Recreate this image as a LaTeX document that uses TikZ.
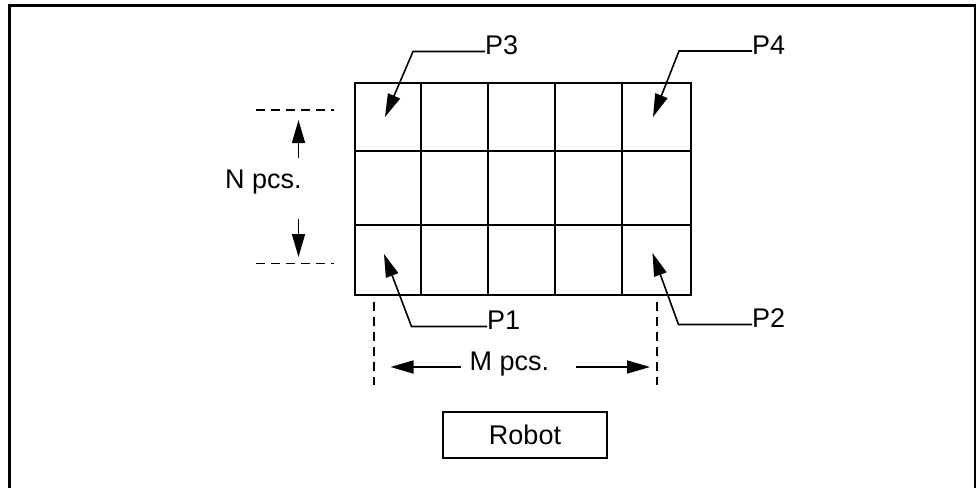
\documentclass[tikz,border=0pt]{standalone}
\usepackage{fontspec}
\setmainfont{Liberation Sans}
\usetikzlibrary{arrows.meta}
\begin{document}
\begin{tikzpicture}[x=1pt,y=-1pt,
  lbl/.style={inner sep=0pt,anchor=base west,font=\fontsize{27}{30}\selectfont},
  gridline/.style={line width=2pt},
  leader/.style={line width=1.6pt,-{Triangle[length=23pt,width=13pt]}},
  dimarrow/.style={line width=1.6pt,-{Triangle[length=23pt,width=13pt]}},
  dashline/.style={line width=1.6pt,dash pattern=on 9pt off 6pt},
  frame/.style={line width=3pt}]
\useasboundingbox (0,0) rectangle (976,487);
% outer frame (open at bottom, clipped)
\draw[frame] (9.5,495) -- (9.5,6) -- (975,6) -- (975,495);
% grid
\node[draw,gridline,inner sep=0pt,minimum width=336pt,minimum height=211.5pt,anchor=north west] (grid) at (353.5,82) {};
\foreach \x in {420.5,487.5,555,622}
  \draw[gridline] (\x,82) -- (\x,293.5);
\foreach \y in {151,225}
  \draw[gridline] (353.5,\y) -- (689.5,\y);
% labels
\node[lbl] (p3) at (485,55) {P3};
\node[lbl] (p4) at (752,55) {P4};
\node[lbl] (p1) at (487,329) {P1};
\node[lbl] (p2) at (752,327) {P2};
\node[lbl] (npcs) at (225,188.5) {N pcs.};
\node[lbl] (mpcs) at (469.5,370.5) {M pcs.};
% tips and corners
\coordinate (t3) at (385,117);
\coordinate (c3) at (413,51.5);
\coordinate (t4) at (653,117);
\coordinate (c4) at (679,51);
\coordinate (t1) at (384,254);
\coordinate (c1) at (411.5,326.5);
\coordinate (t2) at (652.5,253);
\coordinate (c2) at (678.5,324.5);
\draw[leader] (p3.west |- c3) -- (c3) -- (t3);
\draw[leader] (p4.west |- c4) -- (c4) -- (t4);
\draw[leader] (p1.west |- c1) -- (c1) -- (t1);
\draw[leader] (p2.west |- c2) -- (c2) -- (t2);
% N dimension
\coordinate (nd1a) at (256,110); \coordinate (nd1b) at (334,110);
\coordinate (nd2a) at (256,263.5); \coordinate (nd2b) at (334,263.5);
\draw[dashline] (nd1a) -- (nd1b);
\draw[dashline] (nd2a) -- (nd2b);
\coordinate (nup) at (298.5,120);
\coordinate (ndn) at (298.5,257);
\draw[dimarrow] (298.5,158) -- (nup);
\draw[dimarrow] (298.5,219) -- (ndn);
% M dimension
\coordinate (md1a) at (374,302); \coordinate (md1b) at (374,385);
\coordinate (md2a) at (657,302); \coordinate (md2b) at (657,385);
\draw[dashline] (md1a) -- (md1b);
\draw[dashline] (md2a) -- (md2b);
\coordinate (mleft) at (390.5,367);
\coordinate (mright) at (650,367);
\draw[dimarrow] (460.5,367) -- (mleft);
\draw[dimarrow] (576,367) -- (mright);
% Robot
\node[draw,line width=2pt,minimum width=164.5pt,minimum height=45.5pt,inner sep=0pt,
  font=\fontsize{27}{30}\selectfont] (robot) at (525,435) {Robot};
\end{tikzpicture}
\end{document}
